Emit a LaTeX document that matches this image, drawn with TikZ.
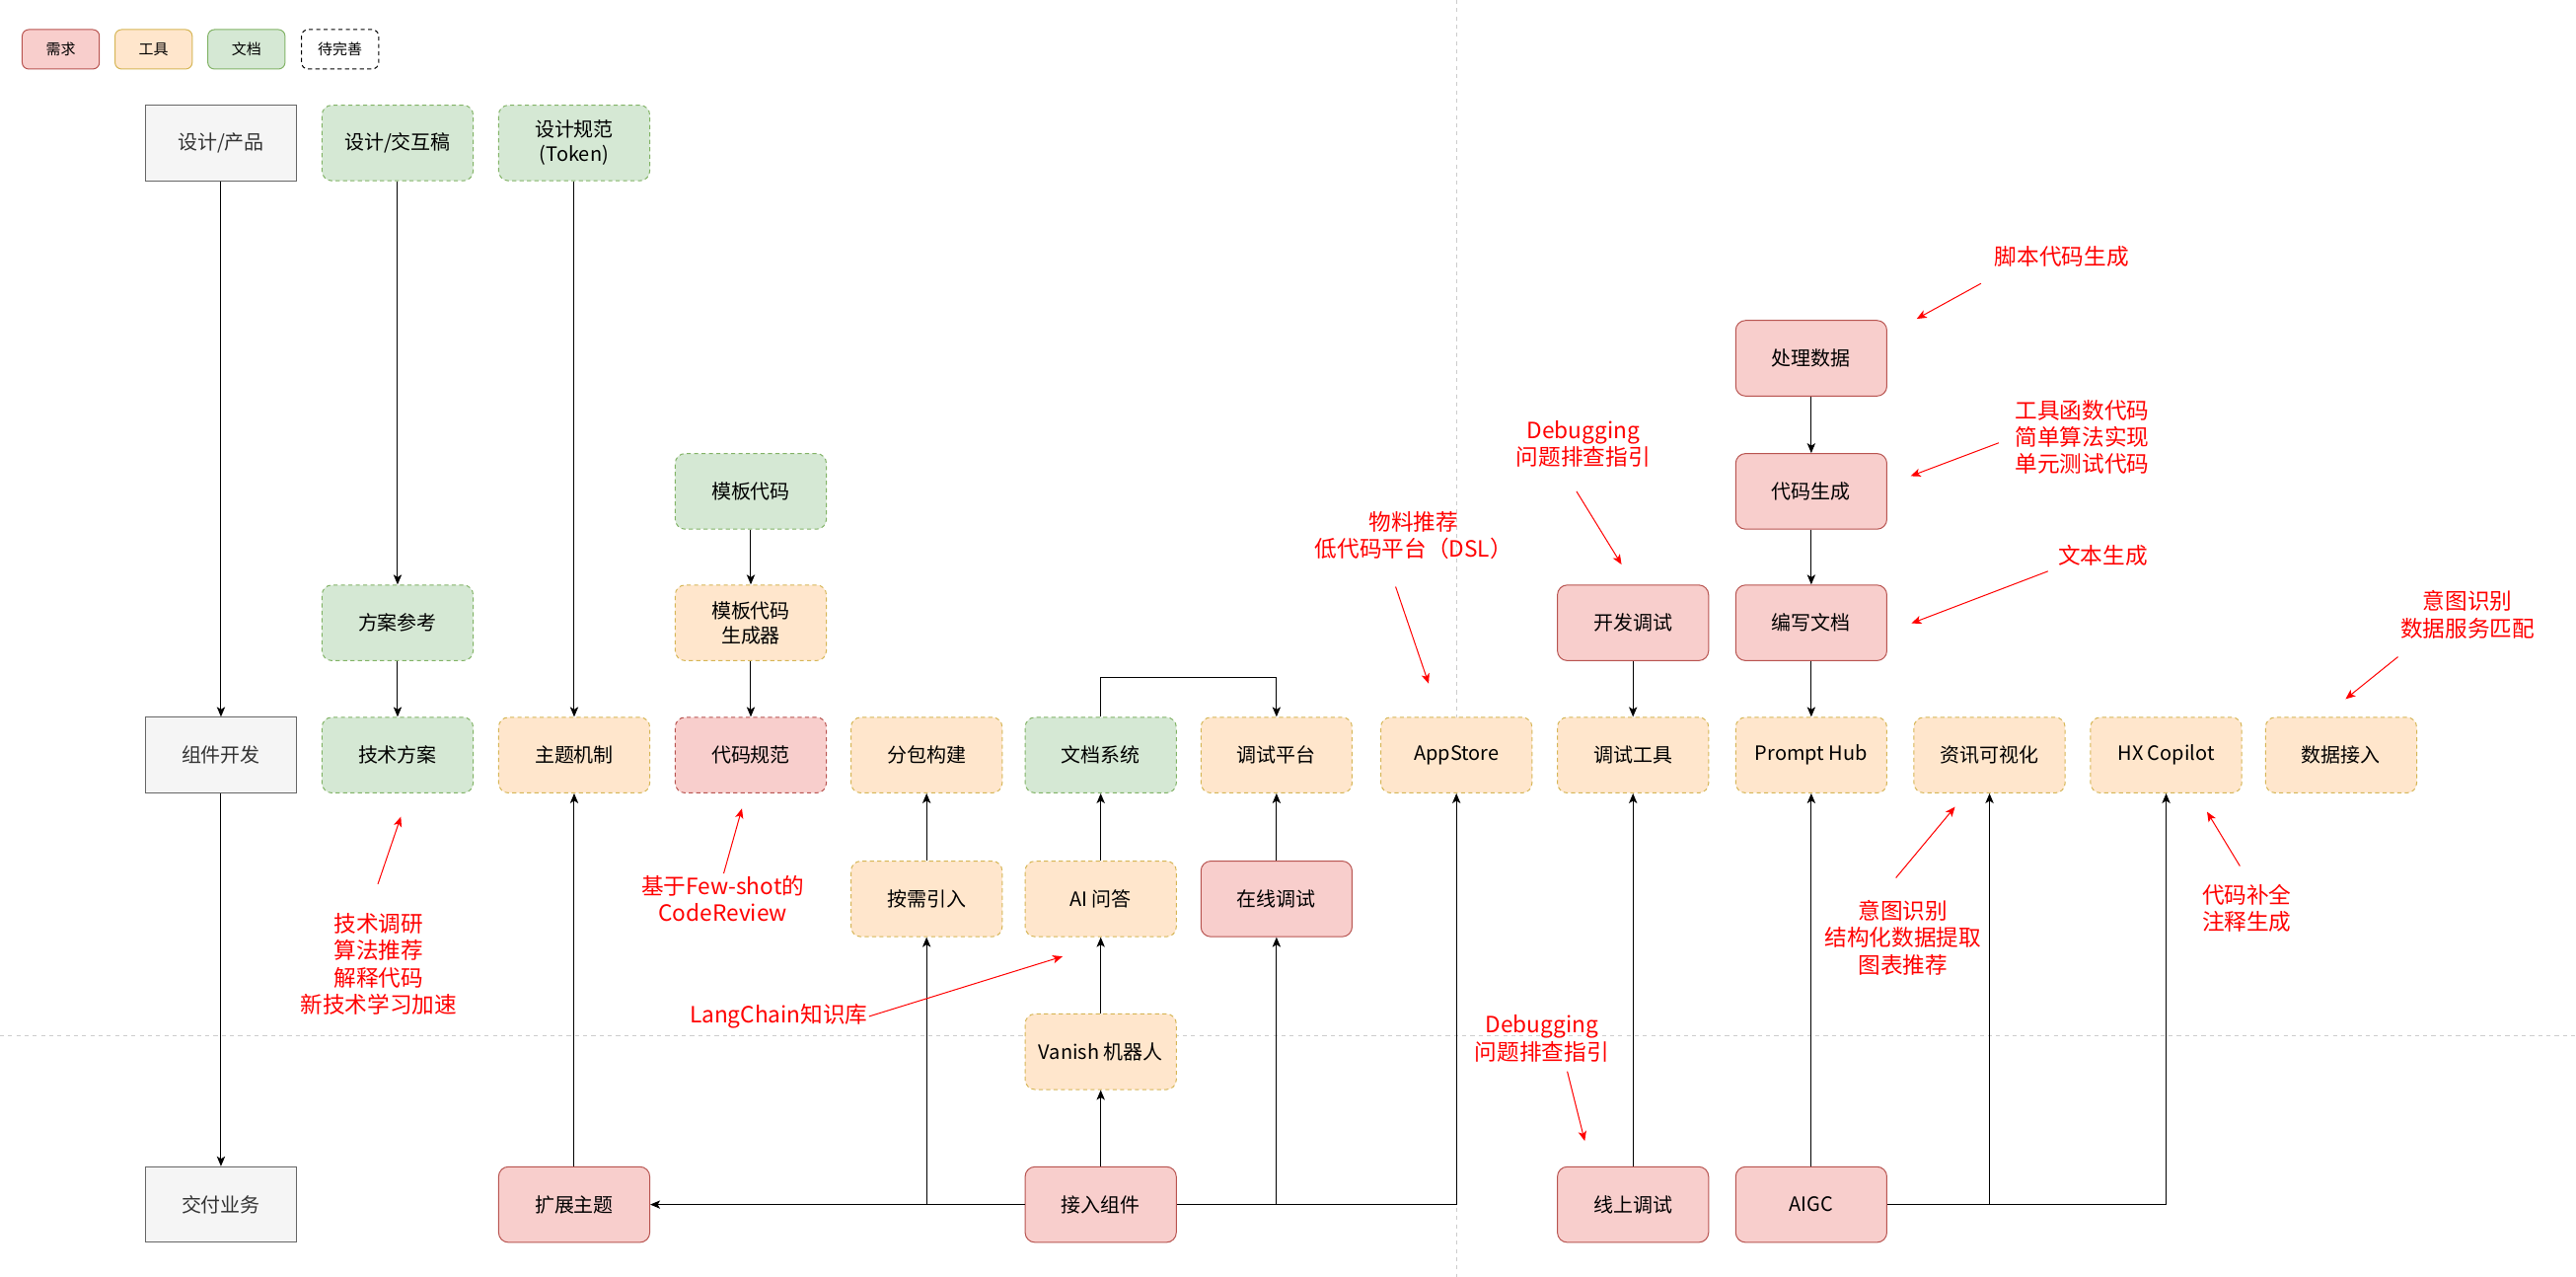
\documentclass[tikz,border=0pt]{standalone}
\usepackage{fontspec}
\setmainfont{Noto Sans CJK SC}
\usetikzlibrary{arrows.meta}

\definecolor{redfill}{HTML}{F8CECC}
\definecolor{redline}{HTML}{B85450}
\definecolor{orgfill}{HTML}{FFE6CC}
\definecolor{orgline}{HTML}{D6B656}
\definecolor{grnfill}{HTML}{D5E8D4}
\definecolor{grnline}{HTML}{82B366}
\definecolor{gryfill}{HTML}{F5F5F5}
\definecolor{gryline}{HTML}{666666}
\definecolor{grytext}{HTML}{333333}
\definecolor{sepline}{HTML}{CCCCCC}

\tikzset{
  box/.style={minimum width=92pt, minimum height=46pt, inner sep=2pt, align=center,
    font=\fontsize{12}{15}\selectfont, line width=0.6pt},
  phase/.style={box, draw=gryline, fill=gryfill, text=grytext},
  need/.style={box, rounded corners=6pt, draw=redline, fill=redfill},
  needtodo/.style={need, dash pattern=on 2.5pt off 2pt},
  tool/.style={box, rounded corners=6pt, draw=orgline, fill=orgfill, dash pattern=on 2.5pt off 2pt},
  doc/.style={box, rounded corners=6pt, draw=grnline, fill=grnfill, dash pattern=on 2.5pt off 2pt},
  legend/.style={minimum width=47pt, minimum height=24pt, inner sep=1pt, rounded corners=4pt,
    font=\fontsize{9}{11}\selectfont, line width=0.6pt},
  link/.style={line width=0.6pt, -{Stealth[length=6pt,width=5pt,inset=1.5pt]}},
  hint/.style={red, line width=0.6pt, -{Stealth[length=6pt,width=5pt,inset=1.5pt]}},
  note/.style={text=red, align=center, inner sep=0pt, font=\fontsize{13.6}{16.4}\selectfont},
  sep/.style={sepline, line width=0.6pt, dash pattern=on 2.5pt off 2.5pt}
}

\begin{document}
\begin{tikzpicture}[x=1pt, y=-1pt]
\useasboundingbox[fill=white] (0,0) rectangle (1568,777);

% Separators
\draw[sep] (886.5,0) -- (886.5,777);
\draw[sep] (0,630) -- (1568,630);

% Legend
\node[legend, draw=redline, fill=redfill] (lg_need) at (37,30) {需求};
\node[legend, draw=orgline, fill=orgfill] (lg_tool) at (93.5,30) {工具};
\node[legend, draw=grnline, fill=grnfill] (lg_doc) at (150,30) {文档};
\node[legend, draw=black, fill=white, dash pattern=on 2.5pt off 2pt] (lg_todo) at (207,30) {待完善};

% Top row
\node[phase] (chanpin) at (134.5,87) {设计/产品};
\node[doc] (jiaohu) at (242,87) {设计/交互稿};
\node[doc] (guifan) at (349.5,87) {设计规范\\(Token)};

% Upper boxes
\node[need] (chuli) at (1102.5,218) {处理数据};
\node[doc] (muban) at (457,299) {模板代码};
\node[need] (shengcheng) at (1102.5,299) {代码生成};
\node[doc] (fangan) at (242,379) {方案参考};
\node[tool] (mubangen) at (457,379) {模板代码\\生成器};
\node[need] (kaifa) at (994,379) {开发调试};
\node[need] (bianxie) at (1102.5,379) {编写文档};

% Component row
\node[phase] (zujian) at (134.5,459.5) {组件开发};
\node[doc] (jishu) at (242,459.5) {技术方案};
\node[tool] (zhuti) at (349.5,459.5) {主题机制};
\node[needtodo] (daima) at (457,459.5) {代码规范};
\node[tool] (fenbao) at (564,459.5) {分包构建};
\node[doc] (wendang) at (670,459.5) {文档系统};
\node[tool] (pingtai) at (777,459.5) {调试平台};
\node[tool] (appstore) at (886.5,459.5) {AppStore};
\node[tool] (gongju) at (994,459.5) {调试工具};
\node[tool] (prompt) at (1102.5,459.5) {Prompt Hub};
\node[tool] (zixun) at (1211,459.5) {资讯可视化};
\node[tool] (copilot) at (1318.5,459.5) {HX Copilot};
\node[tool] (shuju) at (1425,459.5) {数据接入};

% Lower boxes
\node[tool] (anxu) at (564,547) {按需引入};
\node[tool] (wenda) at (670,547) {AI 问答};
\node[need] (zaixian) at (777,547) {在线调试};
\node[tool] (vanish) at (670,640) {Vanish 机器人};

% Delivery row
\node[phase] (jiaofu) at (134.5,733) {交付业务};
\node[need] (kuozhan) at (349.5,733) {扩展主题};
\node[need] (jieru) at (670,733) {接入组件};
\node[need] (xianshang) at (994,733) {线上调试};
\node[need] (aigc) at (1102.5,733) {AIGC};

% Links
\draw[link] (chanpin) -- (zujian);
\draw[link] (zujian) -- (jiaofu);
\draw[link] (jiaohu) -- (fangan);
\draw[link] (fangan) -- (jishu);
\draw[link] (guifan) -- (zhuti);
\draw[link] (kuozhan) -- (zhuti);
\draw[link] (muban) -- (mubangen);
\draw[link] (mubangen) -- (daima);
\draw[link] (anxu) -- (fenbao);
\draw[link] (wenda) -- (wendang);
\draw[link] (wendang.north) -- ++(0,-24) -| (pingtai.north);
\draw[link] (zaixian) -- (pingtai);
\draw[link] (vanish) -- (wenda);
\draw[link] (jieru) -- (vanish);
\draw[link] (jieru) -- (kuozhan);
\draw[link] (jieru) -| (anxu);
\draw[link] (jieru) -| (zaixian);
\draw[link] (jieru) -| (appstore);
\draw[link] (kaifa) -- (gongju);
\draw[link] (xianshang) -- (gongju);
\draw[link] (chuli) -- (shengcheng);
\draw[link] (shengcheng) -- (bianxie);
\draw[link] (bianxie) -- (prompt);
\draw[link] (aigc) -- (prompt);
\draw[link] (aigc) -| (zixun);
\draw[link] (aigc) -| (copilot);

% Notes
\node[note] (n_jishu) at (230.5,586.7) {技术调研\\算法推荐\\解释代码\\新技术学习加速};
\node[note] (n_review) at (440,547) {基于Few-shot的\\CodeReview};
\node[note] (n_lang) at (474,618.5) {LangChain知识库};
\node[note] (n_wuliao) at (860.5,326) {物料推荐\\低代码平台（DSL）};
\node[note] (n_debug) at (963.8,270.3) {Debugging\\问题排查指引};
\node[note] (n_jiaoben) at (1255,156.4) {脚本代码生成};
\node[note] (n_hanshu) at (1267.5,266) {工具函数代码\\简单算法实现\\单元测试代码};
\node[note] (n_wenben) at (1280,338) {文本生成};
\node[note] (n_shuju) at (1502,374) {意图识别\\数据服务匹配};
\node[note] (n_online) at (938.5,632) {Debugging\\问题排查指引};
\node[note] (n_zixun) at (1158.3,570.5) {意图识别\\结构化数据提取\\图表推荐};
\node[note] (n_copilot) at (1367.6,552.5) {代码补全\\注释生成};

% Note arrows
\coordinate (h1a) at (230,538);     \coordinate (h1b) at (244,497);
\coordinate (h2a) at (440.5,531.5); \coordinate (h2b) at (451.6,492);
\coordinate (h3a) at (529,618.5);   \coordinate (h3b) at (646.8,582);
\coordinate (h4a) at (849.5,357);   \coordinate (h4b) at (869.6,416);
\coordinate (h5a) at (959.6,299);   \coordinate (h5b) at (987,343.5);
\coordinate (h6a) at (1205.8,172.5);\coordinate (h6b) at (1166.7,194);
\coordinate (h7a) at (1216.6,269.5);\coordinate (h7b) at (1163,289.7);
\coordinate (h8a) at (1246.6,347.6);\coordinate (h8b) at (1163.5,379.3);
\coordinate (h9a) at (1459.6,399.7);\coordinate (h9b) at (1427.7,425.4);
\coordinate (h10a) at (954,652);    \coordinate (h10b) at (964.6,694.3);
\coordinate (h11a) at (1154,534.2); \coordinate (h11b) at (1190,491);
\coordinate (h12a) at (1363.4,527); \coordinate (h12b) at (1343.4,494);
\foreach \i in {1,...,12}
  \draw[hint] (h\i a) -- (h\i b);
\end{tikzpicture}
\end{document}
